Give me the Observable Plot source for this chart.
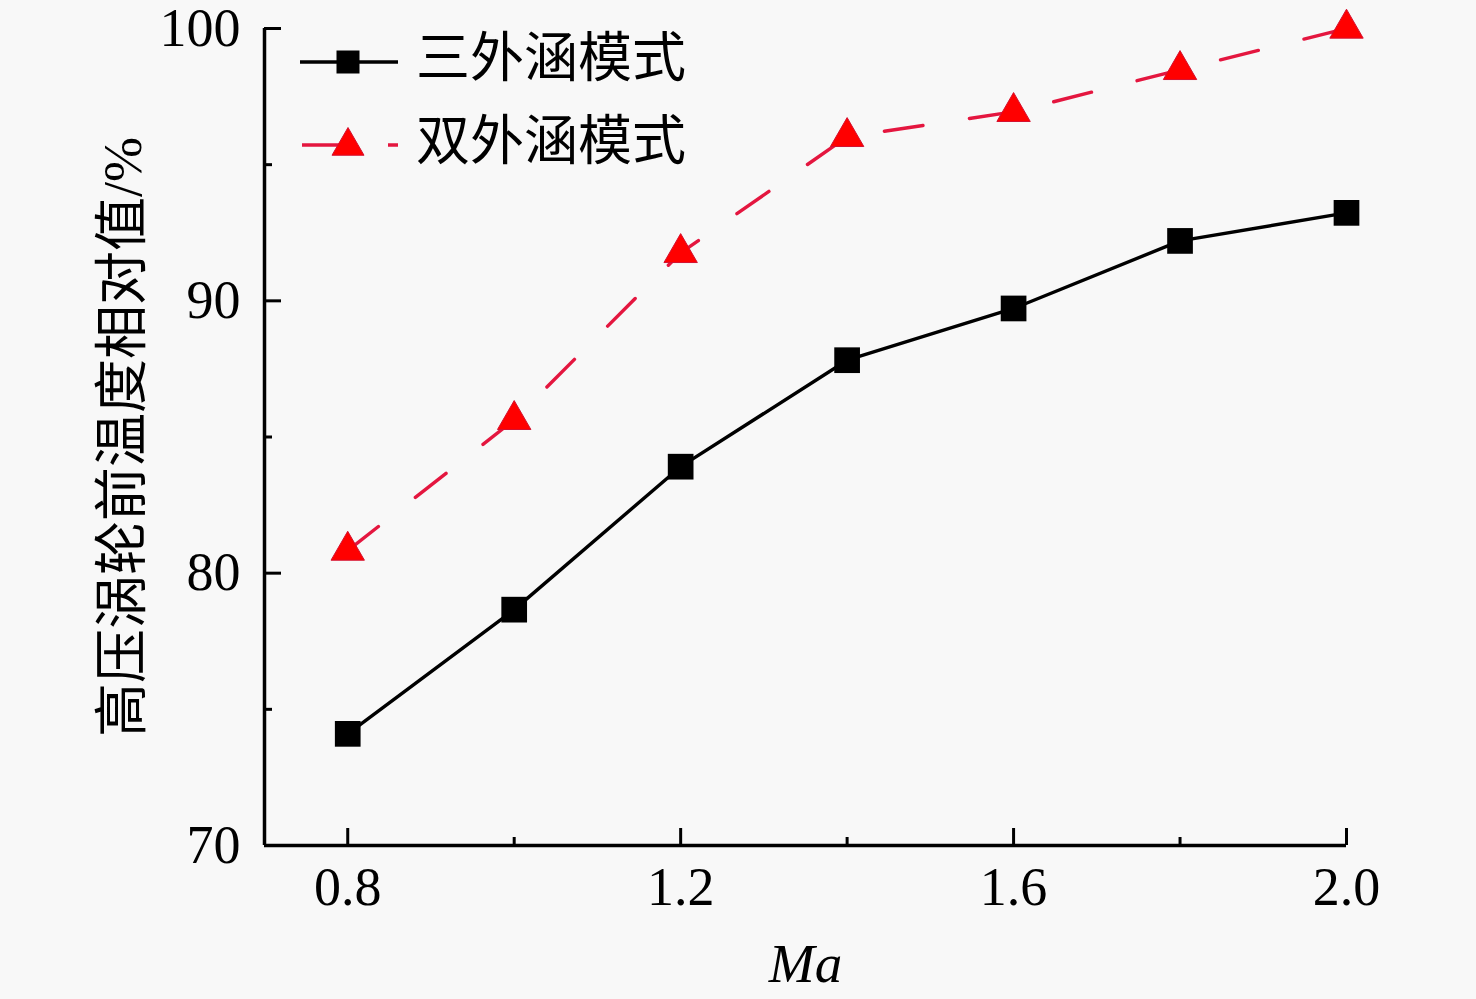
<!DOCTYPE html>
<html><head><meta charset="utf-8">
<script src="https://cdn.jsdelivr.net/npm/d3@7"></script>
<script src="https://cdn.jsdelivr.net/npm/@observablehq/plot@0.6"></script>
<style>
html,body{margin:0;padding:0;background:#f8f8f8;}
#wrap{position:relative;width:1476px;height:999px;overflow:hidden;}
#wrap svg{display:block;}
#legend{position:absolute;left:0;top:0;}
</style></head><body><div id="wrap"></div>
<script>
const ma = [0.8, 1.0, 1.2, 1.4, 1.6, 1.8, 2.0];
const tripleBypass = [74.1, 78.66, 83.91, 87.82, 89.72, 92.2, 93.23];
const doubleBypass = [80.83, 85.63, 91.76, 96.02, 96.94, 98.48, 100.0];
const seriesNames = ["三外涵模式", "双外涵模式"];
const xMajor = [0.8, 1.2, 1.6, 2.0];
const xMinor = [1.0, 1.4, 1.8];
const yMajor = [70, 80, 90, 100];
const yMinor = [75, 85, 95];
const yLabel = "高压涡轮前温度相对值/%";
const xLabel = "Ma";

const serif = "'Liberation Serif','Times New Roman','Noto Sans CJK SC',serif";
const cjk = "'Liberation Serif','Noto Sans CJK SC',serif";
const redLine = "#e4163f";
const dash = "39,47";

const d1 = ma.map((m, i) => ({ma: m, v: tripleBypass[i]}));
const d2 = ma.map((m, i) => ({ma: m, v: doubleBypass[i]}));

const chart = Plot.plot({
  width: 1476,
  height: 999,
  marginLeft: 264,
  marginRight: 130,
  marginTop: 28,
  marginBottom: 154,
  style: {background: "transparent", color: "#000", overflow: "visible"},
  x: {domain: [0.7, 2.0]},
  y: {domain: [70, 100]},
  marks: [
    Plot.axisX(xMajor, {anchor: "bottom", tickSize: -17, tickPadding: 38, tickFormat: d => d.toFixed(1), fontSize: 54, fontFamily: serif, strokeWidth: 3, label: null}),
    Plot.axisX(xMinor, {anchor: "bottom", tickSize: -8, tickFormat: () => "", strokeWidth: 3, label: null}),
    Plot.axisY(yMajor, {anchor: "left", tickSize: -17, tickPadding: 41, tickFormat: d => String(d), fontSize: 54, fontFamily: serif, strokeWidth: 3, label: null}),
    Plot.axisY(yMinor, {anchor: "left", tickSize: -8, tickFormat: () => "", strokeWidth: 3, label: null}),
    Plot.ruleX([0.7], {stroke: "#000", strokeWidth: 3.5}),
    Plot.ruleY([70], {stroke: "#000", strokeWidth: 3.5}),
    Plot.line(d1, {x: "ma", y: "v", stroke: "#000", strokeWidth: 3.4}),
    Plot.dot(d1, {x: "ma", y: "v", symbol: "square", r: 14.5, fill: "#000", stroke: "none"}),
    Plot.line(d2, {x: "ma", y: "v", stroke: redLine, strokeWidth: 3.4, strokeDasharray: dash}),
    Plot.dot(d2, {x: "ma", y: "v", symbol: "triangle", r: 12.4, fill: "#ff0000", stroke: "#d4102f", strokeWidth: 1}),
    Plot.text([yLabel], {frameAnchor: "left", dx: -141, rotate: -90, textAnchor: "middle", lineAnchor: "middle", fontSize: 54, fontFamily: cjk, fill: "#000"}),
    Plot.text([xLabel], {frameAnchor: "bottom", dy: 119, textAnchor: "middle", lineAnchor: "middle", fontSize: 55, fontFamily: serif, fontStyle: "italic", fill: "#000"})
  ]
});

const wrap = document.getElementById("wrap");
wrap.appendChild(chart);

// Legend overlay (inside the plot, top-left)
const ns = "http://www.w3.org/2000/svg";
const lg = document.createElementNS(ns, "svg");
lg.setAttribute("id", "legend");
lg.setAttribute("width", "720");
lg.setAttribute("height", "200");
const rows = [
  {name: seriesNames[0], y: 62, ty: 59, kind: "square"},
  {name: seriesNames[1], y: 145, ty: 142, kind: "triangle"}
];
rows.forEach(r => {
  const ln = document.createElementNS(ns, "line");
  ln.setAttribute("x1", r.kind === "square" ? 300 : 302);
  ln.setAttribute("x2", 398);
  ln.setAttribute("y1", r.y);
  ln.setAttribute("y2", r.y);
  ln.setAttribute("stroke-width", 3.4);
  if (r.kind === "square") {
    ln.setAttribute("stroke", "#000");
    lg.appendChild(ln);
    const sq = document.createElementNS(ns, "rect");
    sq.setAttribute("x", 348 - 11.5); sq.setAttribute("y", r.y - 11.5);
    sq.setAttribute("width", 23); sq.setAttribute("height", 23);
    sq.setAttribute("fill", "#000");
    lg.appendChild(sq);
  } else {
    ln.setAttribute("stroke", redLine);
    ln.setAttribute("stroke-dasharray", dash);
    lg.appendChild(ln);
    const tr = document.createElementNS(ns, "path");
    const cx = 348, cy = r.y + 1, s = 32, h = s * Math.sqrt(3) / 2;
    tr.setAttribute("d", `M${cx},${cy - 2 * h / 3}L${cx + s / 2},${cy + h / 3}L${cx - s / 2},${cy + h / 3}Z`);
    tr.setAttribute("fill", "#ff0000");
    tr.setAttribute("stroke", "#d4102f");
    tr.setAttribute("stroke-width", 1);
    lg.appendChild(tr);
  }
  const t = document.createElementNS(ns, "text");
  t.setAttribute("x", 416);
  t.setAttribute("y", r.ty);
  t.setAttribute("dominant-baseline", "central");
  t.setAttribute("font-size", 54);
  t.setAttribute("font-family", cjk);
  t.setAttribute("fill", "#000");
  t.textContent = r.name;
  lg.appendChild(t);
});
wrap.appendChild(lg);
</script>
</body></html>
